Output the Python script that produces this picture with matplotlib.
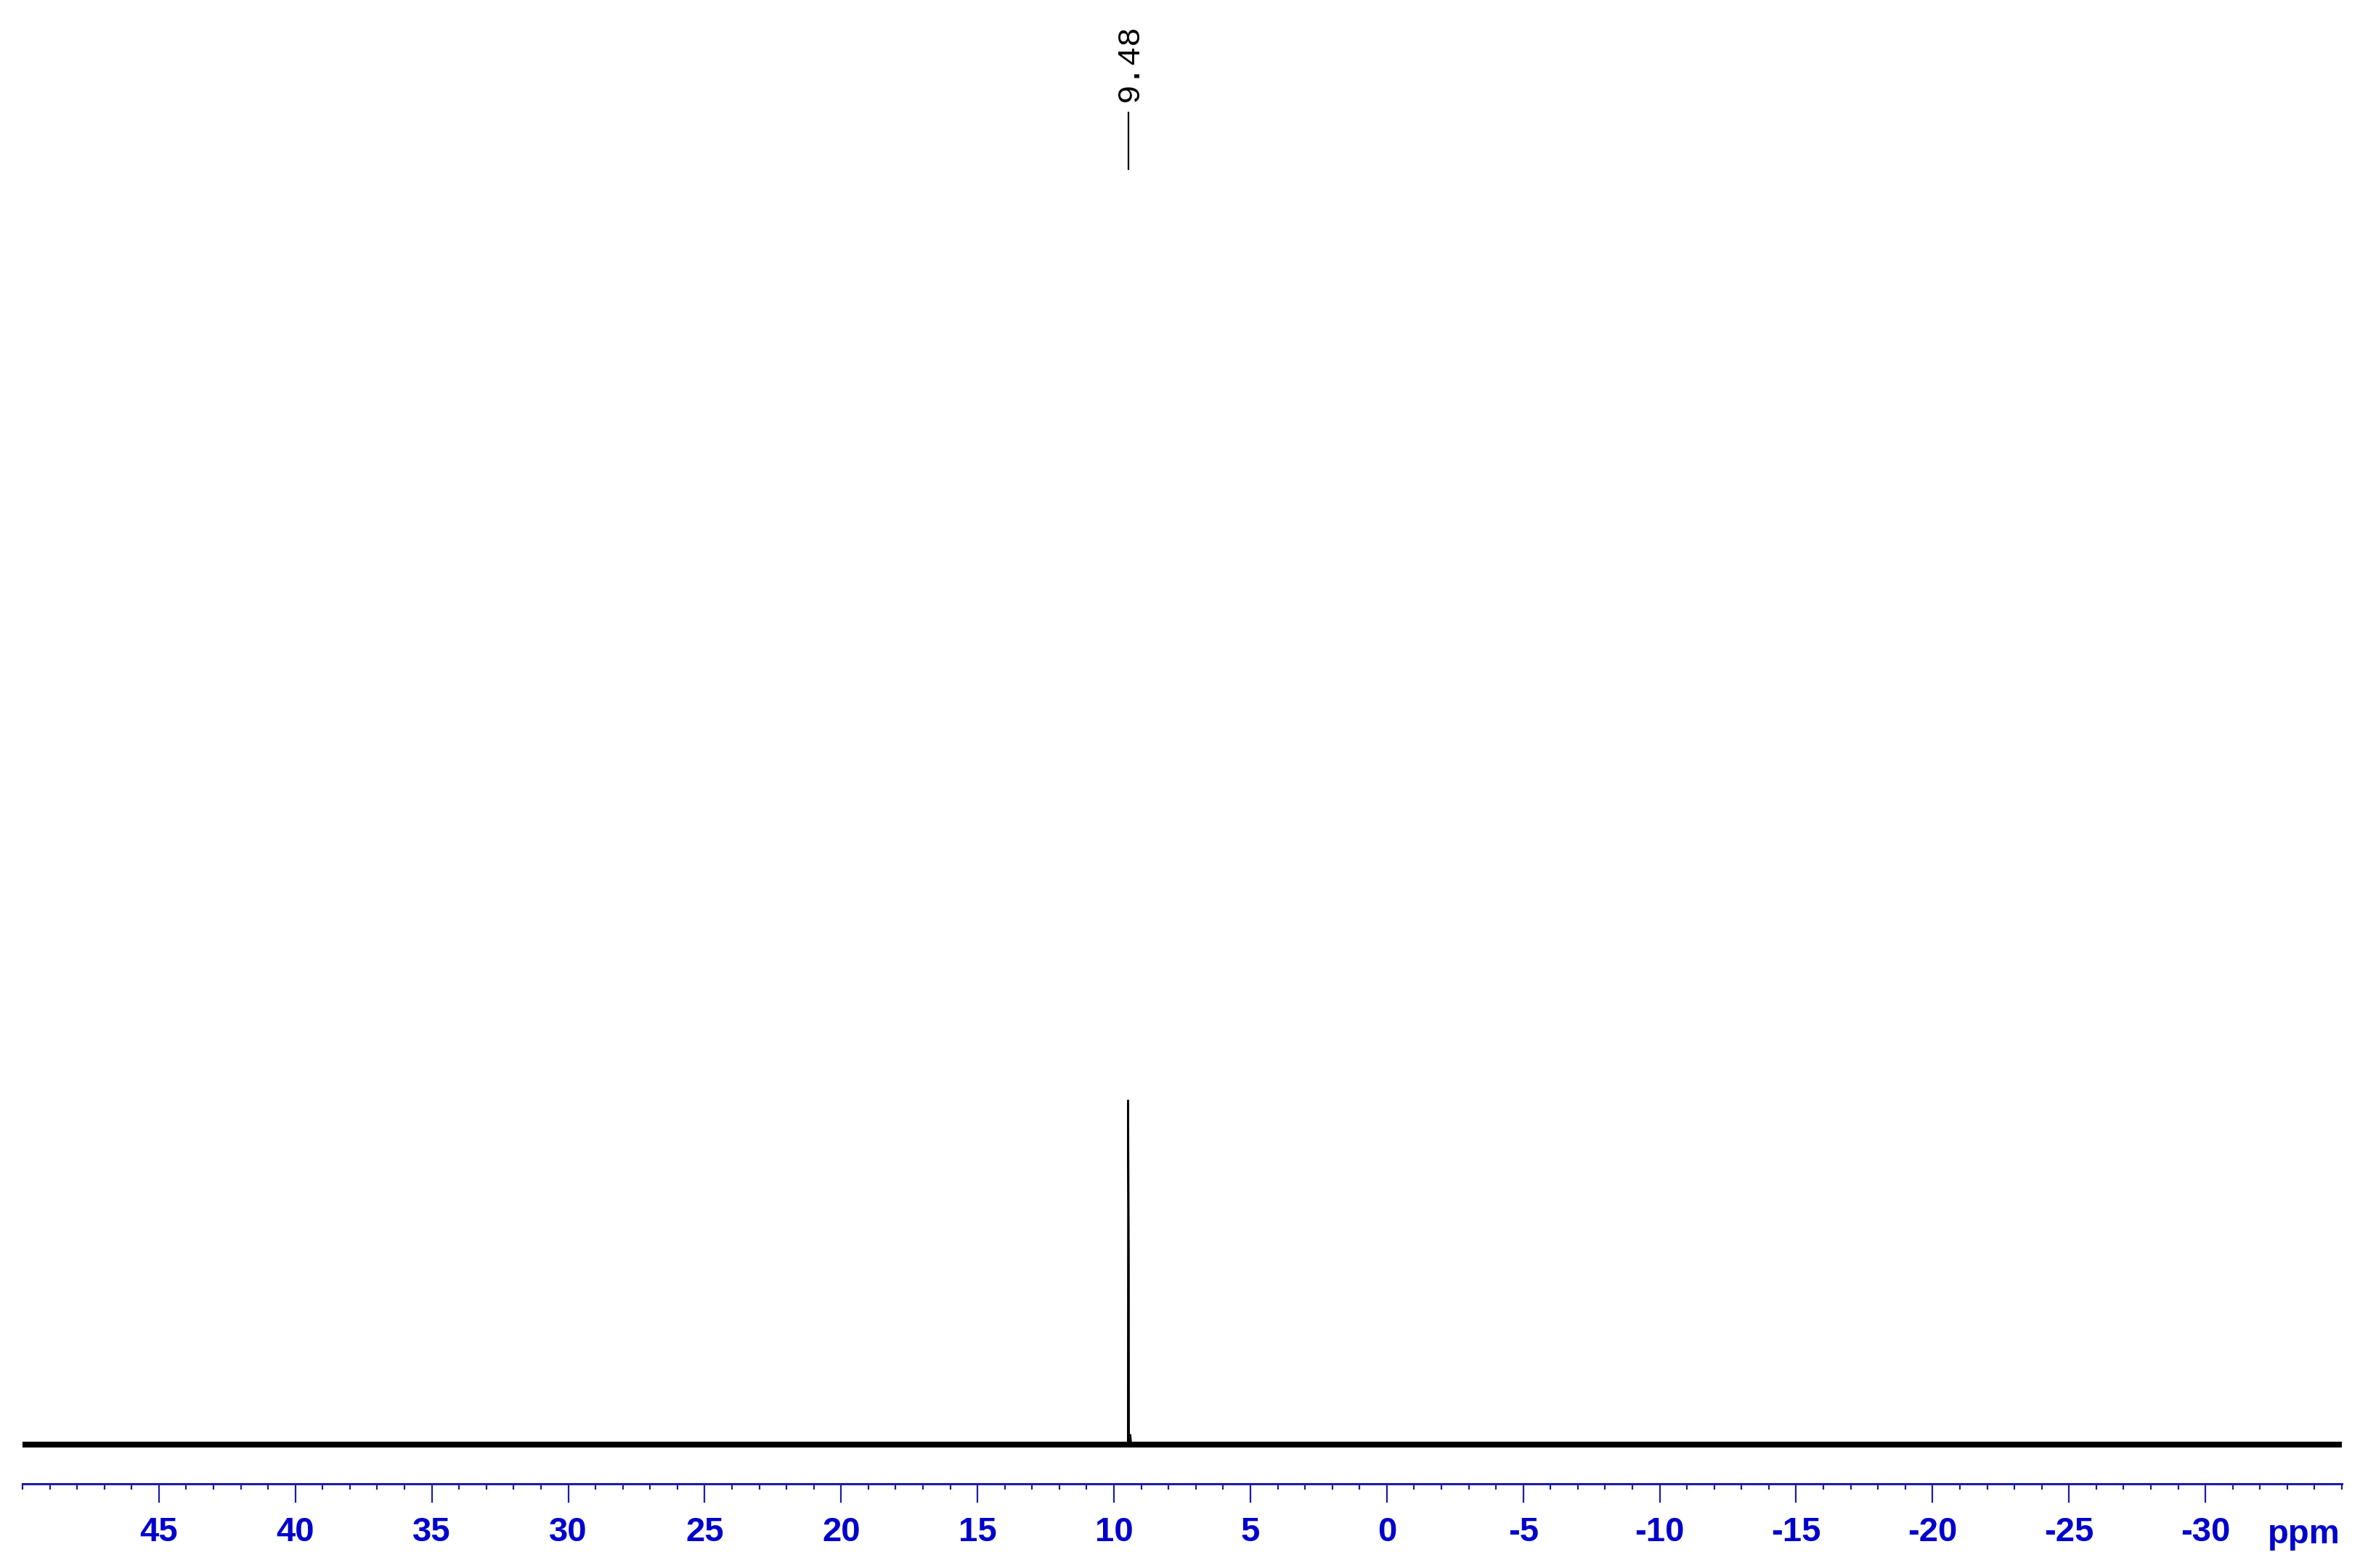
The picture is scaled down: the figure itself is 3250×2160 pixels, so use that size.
import matplotlib
matplotlib.use("Agg")
import matplotlib.pyplot as plt
from matplotlib.ticker import MultipleLocator

# ---------------- data ----------------
spec_ppm = [50.0, 9.49, 9.48, 9.455, 9.45, 9.40, 9.37, -35.0]
spec_int = [0.0, 0.0, 1.0, 0.54, 0.0, 0.03, 0.0, 0.0]
noise_level = 0.008          # half-height of the baseline noise band
peak_label_ppm = 9.48
peak_label_text = "9.48"
major_ticks = [45, 40, 35, 30, 25, 20, 15, 10, 5, 0, -5, -10, -15, -20, -25, -30]
tick_labels = [str(t) for t in major_ticks]
x_limits = (50.0, -35.0)
unit_label = "ppm"

# ---------------- figure ----------------
W, H, DPI = 3250, 2160, 100
fig = plt.figure(figsize=(W / DPI, H / DPI), dpi=DPI)
fig.patch.set_facecolor("white")

axis_px, base_px, top_px = 2044, 1990, 1515
unit = base_px - top_px
ax = fig.add_axes([31 / W, (H - axis_px) / H, 3194 / W, axis_px / H])
ax.set_xlim(*x_limits)
ax.set_ylim(-(axis_px - base_px) / unit, base_px / unit)

# baseline noise band and spectrum
ax.fill_between(x_limits, [-noise_level] * 2, [noise_level] * 2,
                color="black", linewidth=0, zorder=2)
ax.plot(spec_ppm, spec_int, color="black", linewidth=1.8, zorder=3,
        solid_joinstyle="miter")

# peak label
y_l0 = (base_px - 233) / unit
y_l1 = (base_px - 155) / unit
y_t = (base_px - 140) / unit
ax.plot([peak_label_ppm, peak_label_ppm], [y_l0, y_l1], color="black",
        linewidth=1.6, clip_on=False)
ax.text(peak_label_ppm - 0.05, y_t, peak_label_text, rotation=90, ha="center",
        va="bottom", fontsize=32, family=["Liberation Mono", "DejaVu Sans Mono"],
        color="black")

# axes styling
for s in ("top", "left", "right"):
    ax.spines[s].set_visible(False)
axis_col = "#1c1ca8"
lab_col = "#0000cc"
ax.spines["bottom"].set_color(axis_col)
ax.spines["bottom"].set_linewidth(2.2)
ax.set_yticks([])
ax.set_xticks(major_ticks)
ax.set_xticklabels(tick_labels, fontsize=34, fontweight="bold",
                   family=["Liberation Sans", "DejaVu Sans"], color=lab_col)
ax.xaxis.set_minor_locator(MultipleLocator(1))
ax.tick_params(axis="x", which="major", direction="out", length=18.5,
               width=1.6, color=axis_col, pad=14)
ax.tick_params(axis="x", which="minor", direction="out", length=6,
               width=1.6, color=axis_col)

ax.text(-33.6, -(2126 - axis_px) / axis_px, unit_label,
        transform=ax.get_xaxis_transform(), ha="center", va="baseline",
        fontsize=34, fontweight="bold",
        family=["Liberation Sans", "DejaVu Sans"], color=lab_col)

fig.savefig("out.png", dpi=DPI, facecolor="white")
